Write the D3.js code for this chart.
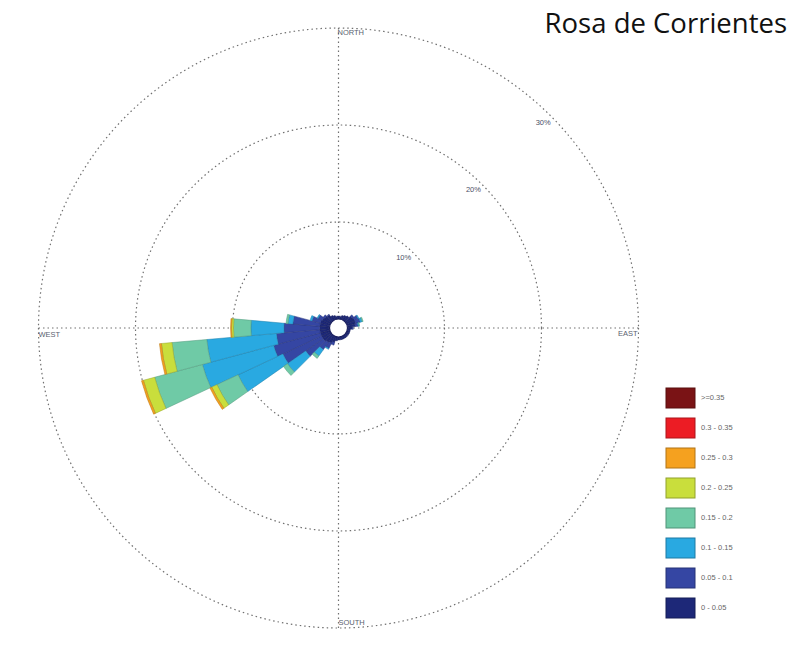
<!DOCTYPE html>
<html>
<head>
<meta charset="utf-8">
<script src="https://cdn.jsdelivr.net/npm/d3@7"></script>
<style>
  html, body { margin: 0; padding: 0; background: #ffffff; }
  svg { display: block; }
</style>
</head>
<body>
<svg id="chart" width="800" height="661"></svg>
<script>
// ---- DATA ----
const title = "Rosa de Corrientes";
const directions = d3.range(0, 360, 10); // compass degrees, 36 bins
const speedClasses = ["0 - 0.05", "0.05 - 0.1", "0.1 - 0.15", "0.15 - 0.2", "0.2 - 0.25", "0.25 - 0.3", "0.3 - 0.35", ">=0.35"];
const classColors = ["#1d2878", "#3546a3", "#29a9e1", "#6fcaa6", "#c9de3c", "#f5a11f", "#ec1c24", "#7a1315"];
// frequency (%) of each speed class per direction (0,10,...,350)
const freq0_005 = [0.3,0.3,0.4,0.5,0.6,0.8,0.9,0.9,0.8,0.5,0.3,0.3,0.3,0.3,0.3,0.3,0.3,0.3,0.3,0.4,0.6,0.8,0.9,1.0,1.0,1.0,1.0,1.0,1.0,1.0,0.9,0.8,0.7,0.5,0.4,0.3];
const freq005_01 = [0,0,0,0,0,0.2,0.4,0.5,0.3,0.1,0,0,0,0,0,0,0,0,0,0,0.3,0.6,0.9,2.2,4.4,5.0,4.5,3.7,2.8,0.9,0.5,0.2,0.1,0,0,0];
const freq01_015 = [0,0,0,0,0,0,0.1,0.2,0.1,0,0,0,0,0,0,0,0,0,0,0,0,0.1,0.8,2.3,5.1,7.6,7.2,3.4,0.5,0.2,0.1,0,0,0,0,0];
const freq015_02 = [0,0,0,0,0,0,0,0.1,0.05,0,0,0,0,0,0,0,0,0,0,0,0,0,0.3,0.5,2.4,5.1,3.6,1.8,0.2,0,0,0,0,0,0,0];
const freq02_025 = [0,0,0,0,0,0,0,0,0,0,0,0,0,0,0,0,0,0,0,0,0,0,0,0,0.6,1.2,1.1,0.2,0,0,0,0,0,0,0,0];
const freq025_03 = [0,0,0,0,0,0,0,0,0,0,0,0,0,0,0,0,0,0,0,0,0,0,0,0,0.2,0.2,0.2,0.1,0,0,0,0,0,0,0,0];
const freq03_035 = new Array(36).fill(0);
const freq035 = new Array(36).fill(0);
const seriesValues = [freq0_005, freq005_01, freq01_015, freq015_02, freq02_025, freq025_03, freq03_035, freq035];
const ringTicks = [10, 20, 30];
const ringLabels = ["10%", "20%", "30%"];
const dirLabels = ["NORTH", "EAST", "SOUTH", "WEST"];

// ---- CHART ----
const svg = d3.select("#chart");
const cx = 338.5, cy = 328, R = 300, r0 = 9;
const rScale = d3.scaleLinear().domain([0, 30]).range([r0, R]);
const g = svg.append("g").attr("transform", `translate(${cx},${cy})`);

const gridColor = "#707070";
const dash = "1.5,3";
// grid circles
g.selectAll("circle.grid").data(ringTicks).join("circle")
  .attr("class", "grid")
  .attr("r", d => rScale(d))
  .attr("fill", "none")
  .attr("stroke", gridColor)
  .attr("stroke-width", 1.2)
  .attr("stroke-dasharray", dash);
// axes lines
g.append("line").attr("x1", -R).attr("x2", R).attr("y1", 0).attr("y2", 0)
  .attr("stroke", gridColor).attr("stroke-width", 1.2).attr("stroke-dasharray", dash);
g.append("line").attr("y1", -R).attr("y2", R).attr("x1", 0).attr("x2", 0)
  .attr("stroke", gridColor).attr("stroke-width", 1.2).attr("stroke-dasharray", dash);

// stacked data
const table = directions.map((d, i) => {
  const o = { dir: d };
  speedClasses.forEach((c, j) => { o[c] = seriesValues[j][i]; });
  return o;
});
const stack = d3.stack().keys(speedClasses)(table);
const arc = d3.arc();
const halfW = 5 * Math.PI / 180;

const layers = g.selectAll("g.layer").data(stack).join("g")
  .attr("class", "layer")
  .attr("fill", (d, i) => classColors[i])
  .attr("stroke", (d, i) => d3.color(classColors[i]).darker(0.8))
  .attr("stroke-width", 0.5);
layers.selectAll("path").data(d => d.filter(p => p[1] - p[0] > 0)).join("path")
  .attr("d", p => {
    const a = p.data.dir * Math.PI / 180;
    return arc({ innerRadius: rScale(p[0]), outerRadius: rScale(p[1]), startAngle: a - halfW, endAngle: a + halfW });
  });

// center hole
g.append("circle").attr("r", r0).attr("fill", "#ffffff").attr("stroke", "#1a1f5e").attr("stroke-width", 1.2);

// ring labels
const labAng = 44 * Math.PI / 180;
g.selectAll("text.ring").data(ringTicks).join("text")
  .attr("class", "ring")
  .attr("x", d => (rScale(d) - 5) * Math.cos(labAng))
  .attr("y", d => -(rScale(d) - 5) * Math.sin(labAng))
  .attr("text-anchor", "end")
  .attr("dominant-baseline", "middle")
  .attr("font-family", "Liberation Sans, Arial, sans-serif")
  .attr("font-size", 7.5)
  .attr("fill", "#4a4f66")
  .text((d, i) => ringLabels[i]);

// direction labels
const dirPos = [
  { x: -1, y: -R + 7, anchor: "start" },
  { x: R - 1, y: 8, anchor: "end" },
  { x: 0, y: R - 3, anchor: "start" },
  { x: -R, y: 9, anchor: "start" }
];
g.selectAll("text.dir").data(dirLabels).join("text")
  .attr("class", "dir")
  .attr("x", (d, i) => dirPos[i].x)
  .attr("y", (d, i) => dirPos[i].y)
  .attr("text-anchor", (d, i) => dirPos[i].anchor)
  .attr("font-family", "Liberation Sans, Arial, sans-serif")
  .attr("font-size", 7.5)
  .attr("fill", "#5a5f70")
  .text(d => d);

// legend
const legendOrder = speedClasses.map((c, i) => i).reverse();
const leg = svg.append("g").attr("transform", "translate(666,388)");
const legY = d3.scaleBand().domain(legendOrder).range([0, 240]).paddingInner(0);
const items = leg.selectAll("g.item").data(legendOrder).join("g")
  .attr("class", "item")
  .attr("transform", d => `translate(0,${legY(d)})`);
items.append("rect")
  .attr("width", 29).attr("height", 20)
  .attr("fill", d => classColors[d])
  .attr("stroke", d => d3.color(classColors[d]).darker(0.9))
  .attr("stroke-width", 1);
items.append("text")
  .attr("x", 35).attr("y", 10)
  .attr("dominant-baseline", "middle")
  .attr("font-family", "Liberation Sans, Arial, sans-serif")
  .attr("font-size", 7.5)
  .attr("fill", "#666")
  .text(d => speedClasses[d]);

// title
svg.append("text")
  .attr("x", 787).attr("y", 33)
  .attr("text-anchor", "end")
  .attr("font-family", "Open Sans, sans-serif")
  .attr("font-size", 27.5)
  .attr("fill", "#111")
  .text(title);
</script>
</body>
</html>
